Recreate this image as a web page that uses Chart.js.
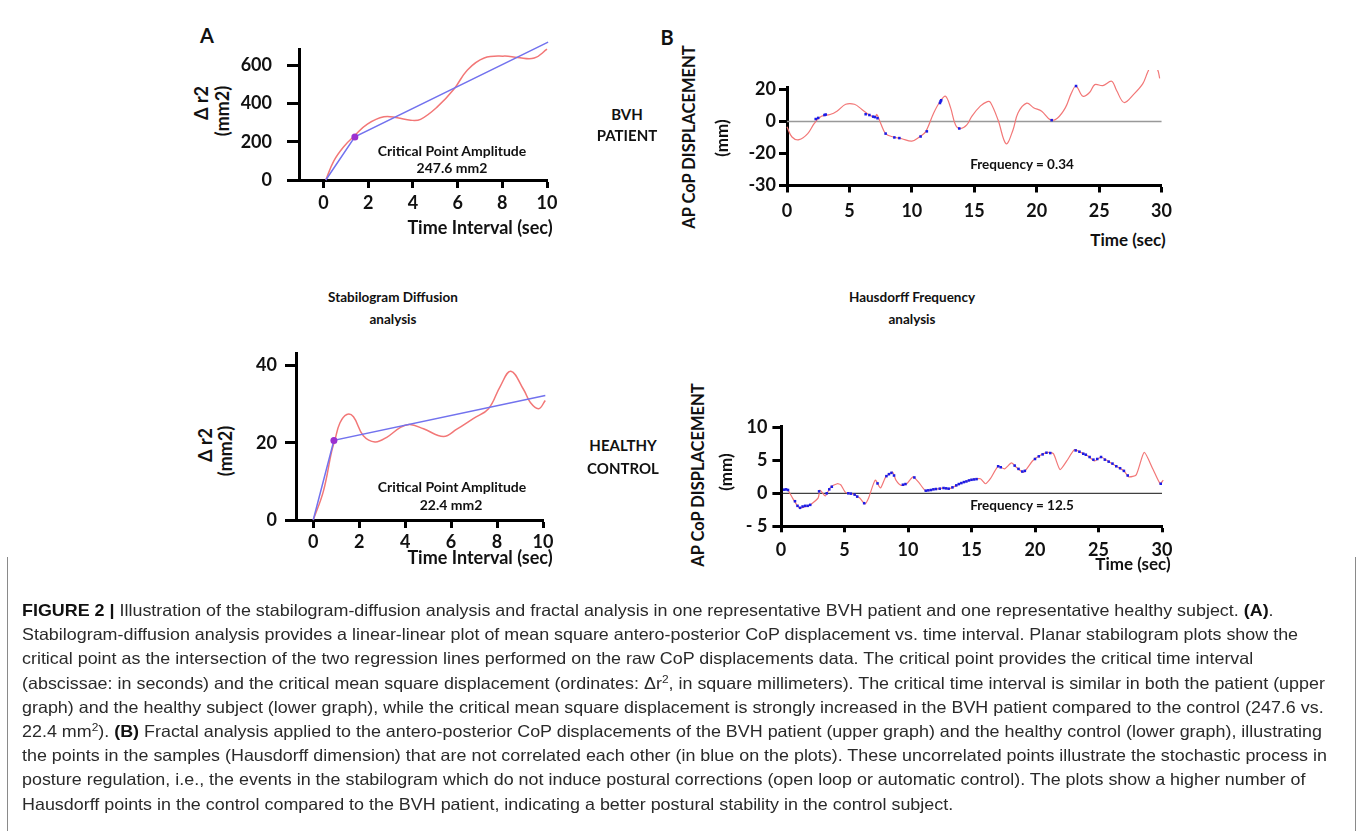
<!DOCTYPE html>
<html><head><meta charset="utf-8">
<script src="https://cdn.jsdelivr.net/npm/chart.js@4.4.0/dist/chart.umd.min.js"></script>
<style>
body{margin:0;background:#fff;width:1357px;height:831px;position:relative;overflow:hidden;font-family:Lato,"Open Sans",sans-serif;}
canvas{position:absolute;}
.t{position:absolute;transform:translate(-50%,-50%);font-weight:bold;white-space:nowrap;color:#111;line-height:1;}
.r{transform:translate(-50%,-50%) rotate(-90deg);}
#cap{position:absolute;left:7px;top:557px;width:1349px;height:290px;border-left:1.5px solid #8a8a8a;border-right:1.5px solid #8a8a8a;box-sizing:border-box;}
#capin{position:absolute;left:14px;top:41px;transform-origin:0 0;font-family:"Liberation Sans Narrow","Liberation Sans",Arial,sans-serif;font-size:16.5px;color:#2a2a2a;}
#capin div{white-space:nowrap;height:24.2px;line-height:24.2px;}
#capin b{color:#111;}
</style></head>
<body>
<canvas id="c1" width="330" height="196" style="left:240px;top:24px"></canvas>
<canvas id="c2" width="330" height="215" style="left:240px;top:335px"></canvas>
<canvas id="c3" width="450" height="150" style="left:730px;top:70px"></canvas>
<canvas id="c4" width="460" height="165" style="left:720px;top:410px"></canvas>

<div class="t" style="left:207px;top:35px;font-size:20px">A</div>
<div class="t" style="left:667px;top:37px;font-size:20px">B</div>

<div class="t r" style="left:201px;top:103px;font-size:18px">Δ r2</div>
<div class="t r" style="left:222px;top:111px;font-size:18px">(mm2)</div>
<div class="t" style="left:480px;top:227px;font-size:18px">Time Interval (sec)</div>
<div class="t" style="left:452px;top:151px;font-size:14px">Critical Point Amplitude</div>
<div class="t" style="left:452px;top:168px;font-size:14px">247.6 mm2</div>

<div class="t r" style="left:205px;top:445px;font-size:18px">Δ r2</div>
<div class="t r" style="left:225px;top:451px;font-size:18px">(mm2)</div>
<div class="t" style="left:480px;top:557px;font-size:18px">Time Interval (sec)</div>
<div class="t" style="left:452px;top:487px;font-size:14px">Critical Point Amplitude</div>
<div class="t" style="left:451px;top:505px;font-size:14px">22.4 mm2</div>

<div class="t" style="left:393px;top:298px;font-size:13.5px">Stabilogram Diffusion</div>
<div class="t" style="left:393px;top:320px;font-size:13.5px">analysis</div>
<div class="t" style="left:912px;top:298px;font-size:13.5px">Hausdorff Frequency</div>
<div class="t" style="left:912px;top:320px;font-size:13.5px">analysis</div>

<div class="t" style="left:627px;top:114px;font-size:15px">BVH</div>
<div class="t" style="left:627px;top:135px;font-size:15px">PATIENT</div>
<div class="t" style="left:623px;top:445px;font-size:15px">HEALTHY</div>
<div class="t" style="left:623px;top:468px;font-size:15px">CONTROL</div>

<div class="t r" style="left:689px;top:137px;font-size:16.5px">AP CoP DISPLACEMENT</div>
<div class="t r" style="left:721px;top:138px;font-size:17px">(mm)</div>
<div class="t" style="left:1128px;top:239px;font-size:17px">Time (sec)</div>
<div class="t" style="left:1022px;top:165px;font-size:13.5px">Frequency = 0.34</div>

<div class="t r" style="left:698px;top:475px;font-size:16.5px">AP CoP DISPLACEMENT</div>
<div class="t r" style="left:725px;top:472px;font-size:17px">(mm)</div>
<div class="t" style="left:1133px;top:563px;font-size:17px">Time (sec)</div>
<div class="t" style="left:1022px;top:506px;font-size:13.5px">Frequency = 12.5</div>

<div id="cap"><div id="capin">
<div><b style="font-family:'Liberation Sans',Arial,sans-serif">FIGURE 2 |</b> Illustration of the stabilogram-diffusion analysis and fractal analysis in one representative BVH patient and one representative healthy subject. <b>(A)</b>.</div>
<div>Stabilogram-diffusion analysis provides a linear-linear plot of mean square antero-posterior CoP displacement vs. time interval. Planar stabilogram plots show the</div>
<div>critical point as the intersection of the two regression lines performed on the raw CoP displacements data. The critical point provides the critical time interval</div>
<div>(abscissae: in seconds) and the critical mean square displacement (ordinates: Δr<sup style="font-size:11px;line-height:0">2</sup>, in square millimeters). The critical time interval is similar in both the patient (upper</div>
<div>graph) and the healthy subject (lower graph), while the critical mean square displacement is strongly increased in the BVH patient compared to the control (247.6 vs.</div>
<div>22.4 mm<sup style="font-size:11px;line-height:0">2</sup>). <b>(B)</b> Fractal analysis applied to the antero-posterior CoP displacements of the BVH patient (upper graph) and the healthy control (lower graph), illustrating</div>
<div>the points in the samples (Hausdorff dimension) that are not correlated each other (in blue on the plots). These uncorrelated points illustrate the stochastic process in</div>
<div>posture regulation, i.e., the events in the stabilogram which do not induce postural corrections (open loop or automatic control). The plots show a higher number of</div>
<div>Hausdorff points in the control compared to the BVH patient, indicating a better postural stability in the control subject.</div>
</div></div>

<script>
// ---------- DATA ----------
// (A) upper: BVH patient, stabilogram diffusion
const sdaBvhT  = [0.1, 0.46, 0.91, 1.4, 1.96, 2.7, 3.3, 3.9, 4.34, 5.1, 5.84, 6.44, 7.19, 8.1, 8.68, 9.43, 10.0];
const sdaBvhR2 = [0, 100, 175, 233, 292, 330, 325, 312, 317, 383, 475, 575, 637, 647, 640, 637, 683];
const fitBvhT  = [0.1, 1.4, 10.05];
const fitBvhR2 = [0, 225, 720];
const critBvh  = [1.4, 225];
// (A) lower: healthy control, stabilogram diffusion
const sdaCtlT  = [0, 0.44, 0.8, 0.94, 1.16, 1.46, 1.75, 2.18, 2.69, 3.2, 3.78, 4.2, 4.8, 5.67, 6.25, 6.98, 7.63, 8.14, 8.6, 9.16, 9.45, 9.81, 10.1];
const sdaCtlR2 = [0, 7.4, 17.7, 20.6, 25.1, 27.3, 26.7, 21.8, 20.2, 21.4, 23.9, 24.7, 23.6, 21.6, 23.5, 26.3, 28.8, 34.6, 38.5, 33.7, 30.4, 28.8, 30.9];
const fitCtlT  = [0, 0.9, 10.1];
const fitCtlR2 = [0, 20.6, 32.2];
const critCtl  = [0.9, 20.6];
// (B) upper: BVH patient AP CoP displacement
const copBvhT = [0, 0.4, 0.97, 1.66, 2.2, 2.76, 3.45, 4.0, 4.7, 5.4, 6.0, 6.6, 7.05, 7.2, 7.5, 7.9, 8.5, 9.2, 10.0, 10.6, 11.1, 11.75, 12.3, 12.7, 13.1, 13.5, 13.9, 14.4, 14.8, 15.5, 16.05, 16.3, 16.9, 17.55, 18.1, 18.5, 19.2, 19.75, 20.4, 21.1, 21.65, 22.3, 22.75, 23.15, 23.7, 24.25, 24.65, 25.3, 26.0, 26.4, 27.0, 27.8, 28.5, 28.9, 29.3, 29.7, 29.85];
const copBvhY = [-3.3, -9.7, -11.4, -7.6, -1.1, 3.2, 4.3, 6.4, 10.7, 10.7, 7.5, 4.0, 2.7, 4.3, -1.1, -7.6, -9.7, -10.8, -12.3, -9.7, -6.5, 5.3, 12.9, 15.7, 8.6, -2.2, -4.4, -2.2, 3.2, 9.7, 12.4, 11.8, 1, -14, -5.3, 5.3, 11.4, 8.6, 6.4, 1.0, 2, 8.6, 17.2, 22.1, 15.7, 18.2, 23, 22.4, 25.1, 19.3, 11.8, 17.2, 23.6, 31, 37, 32, 26.9];
const hausBvhT = [2.3, 2.5, 3.0, 3.1, 6.3, 6.6, 6.9, 7.05, 7.25, 7.9, 8.6, 9.0, 10.7, 11.2, 12.25, 12.3, 12.35, 13.8, 21.2, 23.15];
const hausBvhY = [1.5, 2.2, 4.0, 4.3, 4.5, 4.0, 3.0, 2.7, 2.0, -7.6, -10.0, -10.4, -9.4, -6.2, 11.5, 12.5, 13.2, -4.4, 0.8, 22.1];
const bvhYTickVals  = [-40, -20, 0, 20];
const bvhYTickLabels = ['-30', '-20', '0', '20'];
// (B) lower: healthy control AP CoP displacement
const copCtlT = [0.2, 0.5, 0.9, 1.44, 2.1, 2.35, 2.93, 3.07, 3.48, 3.89, 4.43, 4.7, 5.1, 5.66, 6.2, 6.6, 6.9, 7.42, 7.83, 8.25, 8.78, 9.05, 9.46, 9.9, 10.4, 10.83, 11.37, 11.9, 12.73, 13.27, 14.08, 14.9, 15.7, 16.1, 16.5, 17.1, 17.6, 18.15, 18.55, 19.1, 19.8, 20.35, 21.0, 21.45, 21.97, 22.5, 23.1, 23.6, 24.15, 24.7, 25.2, 25.8, 26.5, 27.0, 27.4, 27.97, 28.6, 29.3, 29.86, 30.1];
const copCtlY = [0.55, 0.6, -0.7, -2.2, -1.9, -1.7, -0.7, 0.5, -0.4, 0.9, 1.45, 1.3, 0.1, -0.1, -0.7, -1.6, -0.7, 2.0, 0.8, 2.5, 3.2, 2.0, 1.2, 1.45, 2.5, 1.7, 0.4, 0.55, 0.8, 0.7, 1.45, 2.0, 2.2, 1.45, 2.25, 4.1, 3.7, 4.6, 3.9, 3.2, 4.9, 5.7, 6.2, 6.0, 3.6, 4.9, 6.6, 6.2, 5.7, 4.9, 5.5, 4.8, 4.0, 3.4, 2.5, 2.8, 6.2, 3.6, 1.45, 2.0];
const hausCtlT = [0.25, 0.4, 0.55, 1.1, 1.3, 1.5, 1.7, 1.9, 2.1, 2.3, 3.0, 3.6, 3.8, 4.0, 5.3, 5.5, 5.8, 6.0, 6.55, 7.6, 8.3, 8.5, 8.7, 8.9, 9.6, 9.8, 10.5, 11.4, 11.6, 11.8, 12.0, 12.2, 12.5, 12.8, 13.0, 13.2, 13.5, 13.8, 14.0, 14.2, 14.4, 14.6, 14.8, 15.0, 15.2, 15.4, 17.1, 17.3, 18.4, 18.7, 19.0, 19.2, 20.0, 20.3, 20.6, 20.9, 21.2, 23.2, 23.5, 23.8, 24.0, 24.3, 24.6, 24.9, 25.2, 25.5, 25.8, 26.1, 26.4, 26.7, 27.0, 27.3, 29.9];
const hausCtlY = [0.55, 0.6, 0.5, -1.2, -1.9, -2.2, -2.0, -1.9, -1.9, -1.75, 0.3, 0.0, 0.6, 1.0, 0.0, -0.05, -0.2, -0.5, -1.5, 1.5, 2.6, 2.9, 3.1, 2.7, 1.3, 1.4, 2.4, 0.4, 0.45, 0.5, 0.6, 0.65, 0.7, 0.8, 0.75, 0.7, 0.9, 1.2, 1.4, 1.55, 1.7, 1.8, 1.95, 2.05, 2.1, 2.15, 4.1, 3.95, 4.2, 3.7, 3.3, 3.4, 5.2, 5.6, 5.9, 6.15, 6.1, 6.5, 6.3, 6.0, 5.85, 5.5, 5.1, 5.2, 5.5, 5.1, 4.8, 4.5, 4.1, 3.8, 3.4, 2.7, 1.45];
const zeroT = [0, 30];
const zeroY = [0, 0];
// tick labels
const sdaXTicks = [0, 2, 4, 6, 8, 10];
const sdaBvhYTicks = [0, 200, 400, 600];
const sdaCtlYTicks = [0, 20, 40];
const copXTicks = [0, 5, 10, 15, 20, 25, 30];
const ctlYTickVals = [-5, 0, 5, 10];
const ctlYTickLabels = ['- 5', '0', '5', '10'];

// ---------- helpers ----------
const RED = '#f27777', BLUE = '#7272ee', HBLUE = '#1c1ce6';
const pts = (xs, ys) => xs.map((x, i) => ({x, y: ys[i]}));
function axis(min, max, ticks, o) {
  return {
    type: 'linear', min, max,
    afterBuildTicks: s => { s.ticks = ticks.map(v => ({value: v})); },
    afterFit: s => { if (o.h !== undefined) s.height = o.h; if (o.w !== undefined) s.width = o.w; },
    border: {display: true, color: '#000', width: 3},
    grid: {drawOnChartArea: false, drawTicks: true, tickLength: o.tl, tickWidth: 3, tickColor: '#000'},
    ticks: {color: '#111', font: {family: 'Lato', weight: 'bold', size: o.fs || 18}, padding: o.pad,
      maxRotation: 0, autoSkip: false, callback: o.cb || (v => String(v))}
  };
}
function make(id, datasets, xs, ys, pad) {
  return new Chart(document.getElementById(id), {
    type: 'line',
    data: {datasets},
    options: {
      responsive: false, animation: false, maintainAspectRatio: false,
      layout: {padding: pad},
      plugins: {legend: {display: false}, tooltip: {enabled: false}},
      scales: {x: xs, y: ys}
    }
  });
}
// datasets listed first are painted on top
const line = (d, color, w, t) => ({data: d, borderColor: color, borderWidth: w, pointRadius: 0, tension: t, clip: false, fill: false});
const dots = (d, color, r, style) => ({data: d, showLine: false, pointRadius: r, pointStyle: style || 'circle', pointBackgroundColor: color, pointBorderColor: color, pointBorderWidth: 0, clip: false});

// (A) upper
make('c1', [
  dots([{x: critBvh[0], y: critBvh[1]}], '#9b30d0', 3.5),
  line(pts(fitBvhT, fitBvhR2), BLUE, 1.5, 0),
  line(pts(sdaBvhT, sdaBvhR2), RED, 1.5, 0.4)
],
  axis(-1.1, 10, sdaXTicks, {h: 40, tl: 8, pad: 4}),
  axis(0, 680, sdaBvhYTicks, {w: 59, tl: 12, pad: 15}),
  {top: 20, right: 23, left: 0, bottom: 0});

// (A) lower
make('c2', [
  dots([{x: critCtl[0], y: critCtl[1]}], '#9b30d0', 3.5),
  line(pts(fitCtlT, fitCtlR2), BLUE, 1.5, 0),
  line(pts(sdaCtlT, sdaCtlR2), RED, 1.5, 0.4)
],
  axis(-0.75, 10, sdaXTicks, {h: 30, tl: 8, pad: 3}),
  axis(0, 43, sdaCtlYTicks, {w: 56, tl: 11, pad: 8}),
  {top: 15, right: 27, left: 0, bottom: 0});

// (B) upper
make('c3', [
  dots(pts(hausBvhT, hausBvhY), HBLUE, 1.8, 'rect'),
  line(pts(copBvhT, copBvhY), RED, 1.2, 0.35),
  line(pts(zeroT, zeroY), '#999999', 1.5, 0)
],
  axis(0, 30, copXTicks, {h: 34.5, tl: 7, pad: 8}),
  axis(-40, 21.5, bvhYTickVals, {w: 57, tl: 8, pad: 3, cb: v => bvhYTickLabels[bvhYTickVals.indexOf(v)]}),
  {top: 17, right: 18, left: 0, bottom: 0});

// (B) lower
make('c4', [
  dots(pts(hausCtlT, hausCtlY), HBLUE, 1.8, 'rect'),
  line(pts(copCtlT, copCtlY), RED, 1.2, 0.2),
  line(pts(zeroT, zeroY), '#111111', 1, 0)
],
  axis(0, 30, copXTicks, {h: 48.7, tl: 6, pad: 7}),
  axis(-5, 10.2, ctlYTickVals, {w: 61, tl: 8.6, pad: 5, cb: v => ctlYTickLabels[ctlYTickVals.indexOf(v)]}),
  {top: 16, right: 18, left: 0, bottom: 0});

// fit caption lines to the measured width of the reference text block
(function () {
  const inner = document.getElementById('capin');
  let maxW = 0;
  for (const d of inner.children) { d.style.display = 'inline-block'; maxW = Math.max(maxW, d.getBoundingClientRect().width); d.style.display = 'block'; }
  const target = 1305;
  inner.style.transform = 'scaleX(' + (target / maxW) + ')';
})();
</script>
</body></html>
